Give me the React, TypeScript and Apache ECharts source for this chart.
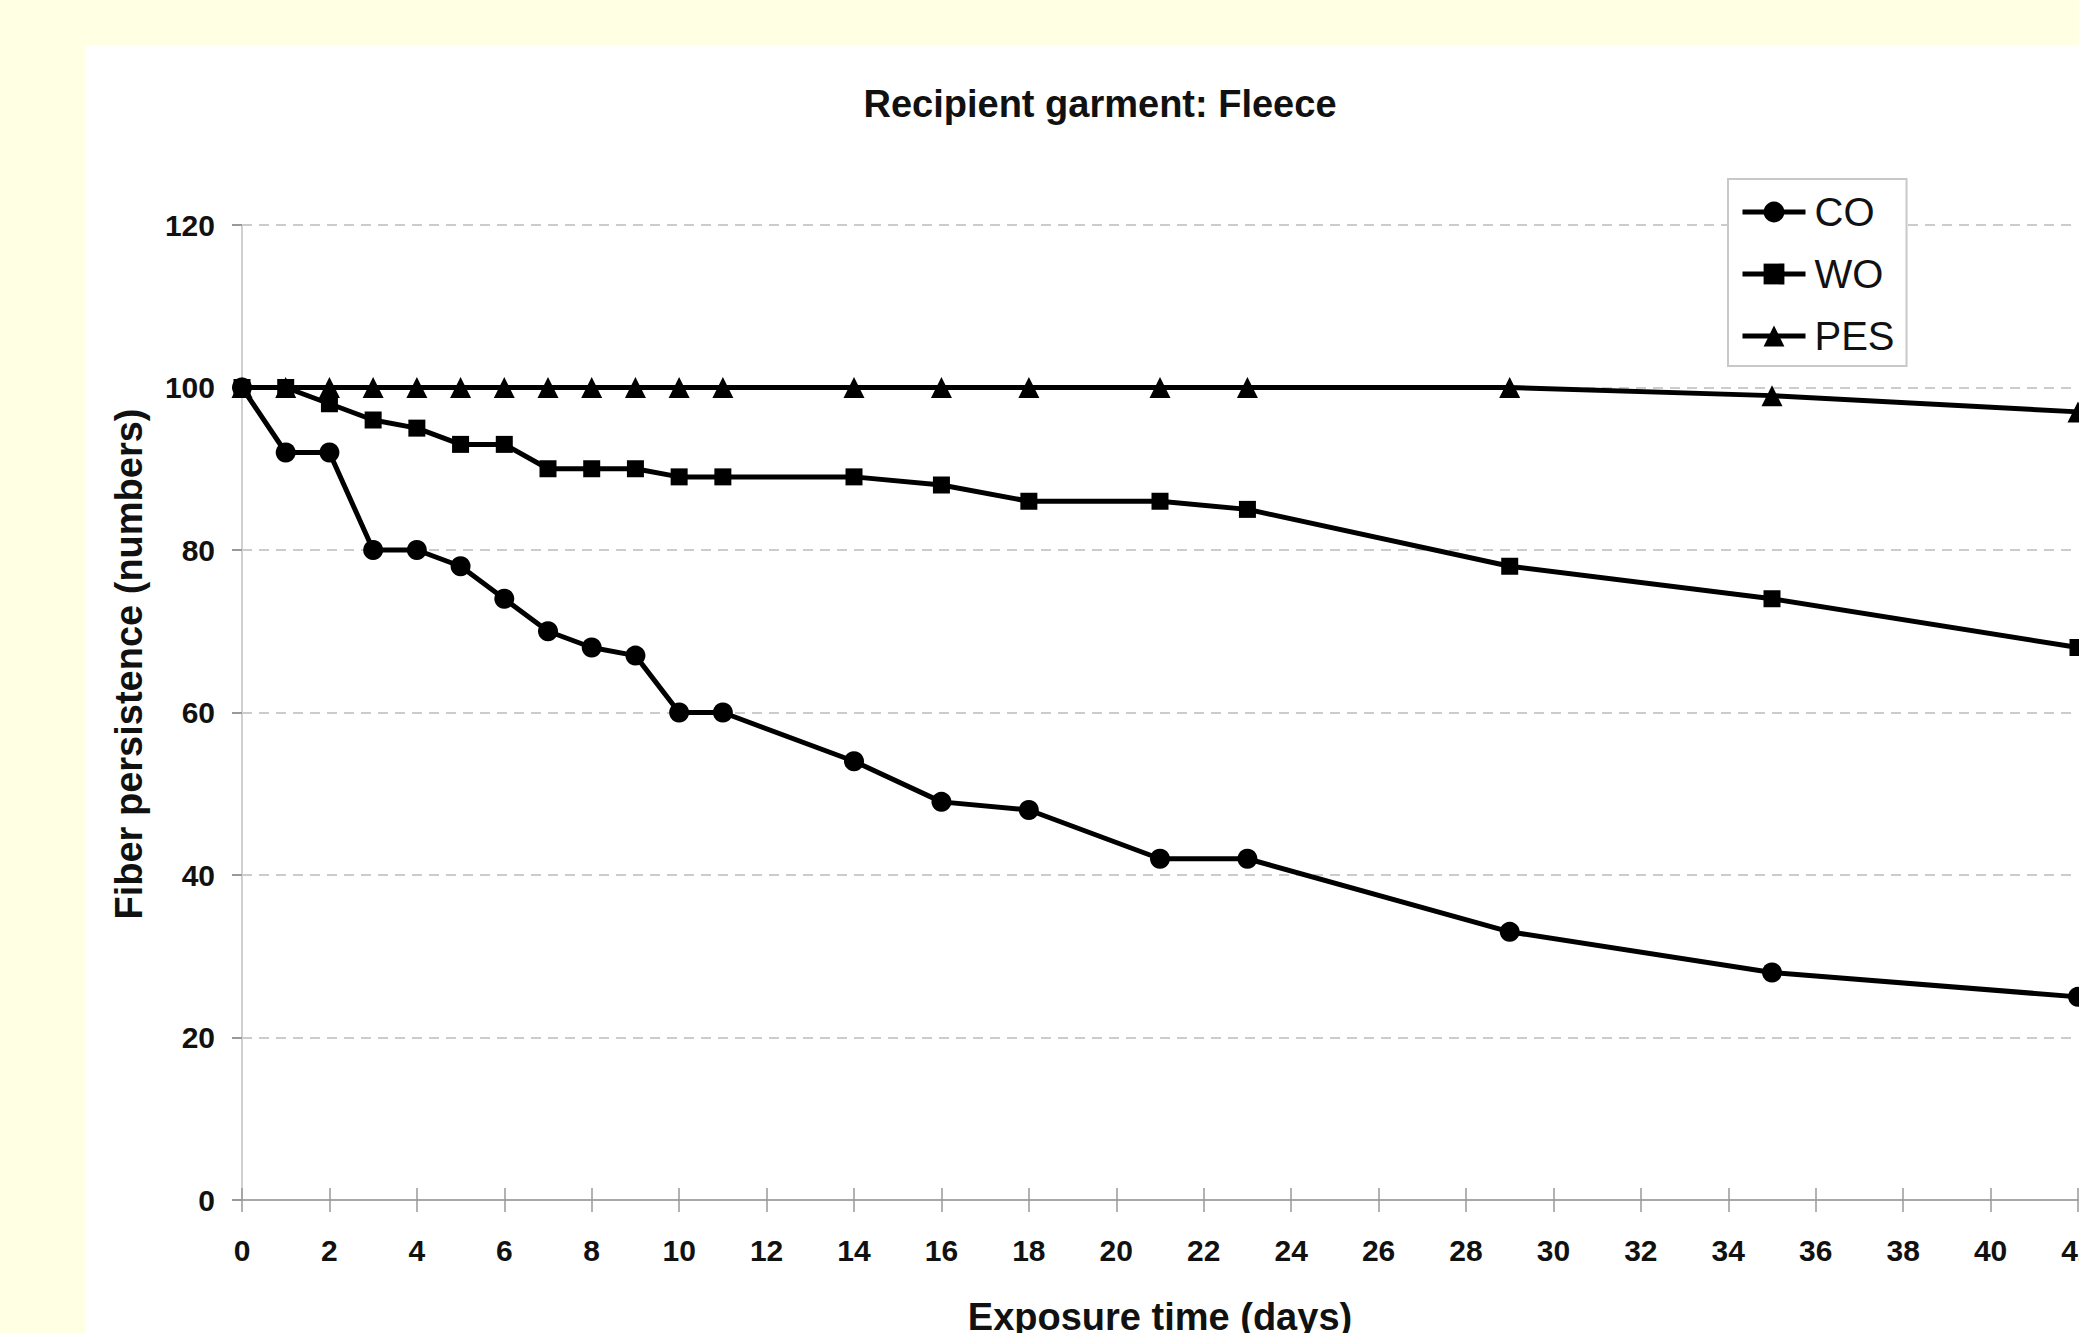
import React, { useEffect, useRef } from "react";
import * as echarts from "echarts";

const xDays = [0, 1, 2, 3, 4, 5, 6, 7, 8, 9, 10, 11, 14, 16, 18, 21, 23, 29, 35, 42];
const coValues = [100, 92, 92, 80, 80, 78, 74, 70, 68, 67, 60, 60, 54, 49, 48, 42, 42, 33, 28, 25];
const woValues = [100, 100, 98, 96, 95, 93, 93, 90, 90, 90, 89, 89, 89, 88, 86, 86, 85, 78, 74, 68];
const pesValues = [100, 100, 100, 100, 100, 100, 100, 100, 100, 100, 100, 100, 100, 100, 100, 100, 100, 100, 99, 97];
const seriesNames = ["CO", "WO", "PES"];
const seriesSymbols = ["circle", "rect", "triangle"];
const titleText = "Recipient garment: Fleece";
const xName = "Exposure time (days)";
const yName = "Fiber persistence (numbers)";

const FONT = '"Liberation Sans", Arial, Helvetica, sans-serif';

export default function App() {
  const ref = useRef<HTMLDivElement>(null);
  useEffect(() => {
    if (!ref.current) return;
    const chart = echarts.init(ref.current, null, { renderer: "svg" });
    const all = [coValues, woValues, pesValues];
    const sizes = [20, 17, 21];
    const series = all.map((vals, k) => ({
      name: seriesNames[k],
      type: "line",
      xAxisIndex: 0,
      data: xDays.map((d, i) => [d, vals[i]]),
      symbol: seriesSymbols[k],
      symbolSize: sizes[k],
      showSymbol: true,
      clip: false,
      lineStyle: { color: "#000", width: 5 },
      itemStyle: { color: "#000" },
      emphasis: { disabled: true },
    }));
    chart.setOption({
      animation: false,
      backgroundColor: "transparent",
      title: {
        text: titleText,
        left: "center",
        top: 80,
        textStyle: { fontFamily: FONT, fontWeight: "bold", fontSize: 38, color: "#111" },
      },
      legend: {
        orient: "vertical",
        left: 1728,
        top: 179,
        padding: [13, 12, 10, 12],
        itemGap: 22,
        itemWidth: 63,
        itemHeight: 26,
        borderColor: "#c8c8c8",
        borderWidth: 2,
        backgroundColor: "#fff",
        data: seriesNames,
        lineStyle: { width: 5, color: "#000" },
        textStyle: { fontFamily: FONT, fontSize: 40, color: "#111", padding: [0, 0, 0, 4] },
      },
      grid: { left: 242, top: 225, right: 122, bottom: 133, containLabel: false, outerBoundsMode: "none" },
      xAxis: [
        {
          type: "value",
          min: 0,
          max: 42,
          interval: 2,
          name: xName,
          nameLocation: "middle",
          nameGap: 98,
          nameTextStyle: { fontFamily: FONT, fontWeight: "bold", fontSize: 38, color: "#111" },
          axisLine: { show: true, lineStyle: { color: "#a8a8a8", width: 2 } },
          axisTick: { show: true, inside: false, length: 12, lineStyle: { color: "#999", width: 1.5 } },
          axisLabel: { fontFamily: FONT, fontWeight: "bold", fontSize: 30, color: "#111", margin: 35 },
          splitLine: { show: false },
        },
        {
          type: "value",
          min: 0,
          max: 42,
          interval: 2,
          position: "bottom",
          axisLine: { show: false },
          axisTick: { show: true, inside: true, length: 12, lineStyle: { color: "#999", width: 1.5 } },
          axisLabel: { show: false },
          splitLine: { show: false },
        },
      ],
      yAxis: {
        type: "value",
        min: 0,
        max: 120,
        interval: 20,
        axisLine: { show: true, lineStyle: { color: "#d0d0d0", width: 2 } },
        axisTick: { show: true, inside: false, length: 10, lineStyle: { color: "#999", width: 2 } },
        axisLabel: { fontFamily: FONT, fontWeight: "bold", fontSize: 30, color: "#111", margin: 27 },
        splitLine: { show: true, lineStyle: { color: "#cccccc", width: 2, type: [10, 7] } },
      },
      graphic: [
        {
          type: "text",
          x: 129,
          y: 664,
          rotation: Math.PI / 2,
          style: {
            text: yName,
            fontFamily: FONT,
            fontWeight: "bold",
            fontSize: 38,
            fill: "#111",
            align: "center",
            verticalAlign: "middle",
          },
        },
      ],
      series,
    });
    return () => chart.dispose();
  }, []);
  return (
    <div style={{ position: "fixed", left: 0, top: 0, width: 2079, height: 1333, overflow: "hidden", background: "#FFFFE4" }}>
      <div style={{ position: "absolute", left: 85, top: 45, right: 0, bottom: 0, background: "#ffffff" }} />
      <div ref={ref} style={{ position: "absolute", left: 0, top: 0, width: 2200, height: 1333 }} />
    </div>
  );
}
